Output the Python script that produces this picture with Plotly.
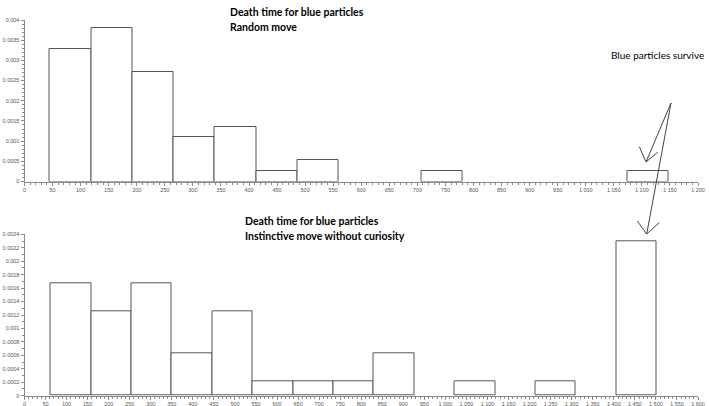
import plotly.graph_objects as go

# ---- data ----
top_bin_left = [45, 118.5, 192, 265.5, 339, 412.5, 486, 559.5, 633, 706.5, 780, 853.5, 927, 1000.5, 1074]
top_bin_width = 73.5
top_density = [0.00327, 0.00381, 0.00272, 0.00109, 0.00136, 0.00027, 0.00054, None, None, 0.00027, None, None, None, None, 0.00027]

bot_bin_left = [62, 158, 254, 350, 446, 542, 638, 734, 830, 926, 1022, 1118, 1214, 1310, 1406]
bot_bin_width = 96
bot_density = [0.00167, 0.00125, 0.00167, 0.000625, 0.00125, 0.00021, 0.00021, 0.00021, 0.000625, None, 0.00021, None, 0.00021, None, 0.00229]

top_xtickvals = list(range(0, 1201, 50))
top_xticktext = [f"{v:,}".replace(",", " ") for v in top_xtickvals]
bot_xtickvals = list(range(0, 1601, 50))
bot_xticktext = [f"{v:,}".replace(",", " ") for v in bot_xtickvals]

top_ytickvals = [0, 0.0005, 0.001, 0.0015, 0.002, 0.0025, 0.003, 0.0035, 0.004]
top_yticktext = ["0", "0.0005", "0.001", "0.0015", "0.002", "0.0025", "0.003", "0.0035", "0.004"]
bot_ytickvals = [0, 0.0002, 0.0004, 0.0006, 0.0008, 0.001, 0.0012, 0.0014, 0.0016, 0.0018, 0.002, 0.0022, 0.0024]
bot_yticktext = ["0", "0.0002", "0.0004", "0.0006", "0.0008", "0.001", "0.0012", "0.0014", "0.0016", "0.0018", "0.002", "0.0022", "0.0024"]

W, H = 709, 406
def px(x): return x / W
def py(y): return 1 - y / H

BAR_LINE = "#555555"
AX = "#8a8a8a"
TICKFONT = dict(family="Liberation Sans, Arial, sans-serif", size=5.5, color="#555555")

fig = go.Figure()
fig.add_trace(go.Bar(x=top_bin_left, y=top_density, width=[top_bin_width] * len(top_bin_left), offset=0,
                     marker=dict(color="white", line=dict(color=BAR_LINE, width=1)),
                     xaxis="x", yaxis="y", showlegend=False))
fig.add_trace(go.Bar(x=bot_bin_left, y=bot_density, width=[bot_bin_width] * len(bot_bin_left), offset=0,
                     marker=dict(color="white", line=dict(color=BAR_LINE, width=1)),
                     xaxis="x2", yaxis="y2", showlegend=False))

def xaxis_cfg(rng, vals, txt, dom, anchor):
    return dict(range=rng, domain=dom, anchor=anchor, tickvals=vals, ticktext=txt, automargin=False,
                showgrid=False, zeroline=False, showline=True, linecolor=AX, linewidth=1,
                ticks="outside", ticklen=3, tickcolor=AX, tickfont=TICKFONT,
                minor=dict(ticks="outside", dtick=10, ticklen=2, tickcolor=AX, showgrid=False))

def yaxis_cfg(rng, vals, txt, dom, anchor, mdt):
    return dict(range=rng, domain=dom, anchor=anchor, tickvals=vals, ticktext=txt, automargin=False,
                showgrid=False, zeroline=False, showline=True, linecolor=AX, linewidth=1,
                ticks="outside", ticklen=3, tickcolor=AX, tickfont=TICKFONT,
                minor=dict(ticks="outside", dtick=mdt, ticklen=2, tickcolor=AX, showgrid=False))

fig.update_layout(
    width=W, height=H, margin=dict(l=0, r=0, t=0, b=0, pad=0),
    paper_bgcolor="white", plot_bgcolor="white", bargap=0,
    xaxis=xaxis_cfg([0, 1200], top_xtickvals, top_xticktext, [px(24.5), px(698)], "y"),
    yaxis=yaxis_cfg([0, 0.004], top_ytickvals, top_yticktext, [py(181.5), py(20)], "x", 0.0001),
    xaxis2=xaxis_cfg([0, 1600], bot_xtickvals, bot_xticktext, [px(24.5), px(698)], "y2"),
    yaxis2=yaxis_cfg([0, 0.0024], bot_ytickvals, bot_yticktext, [py(395.7), py(234.3)], "x2", 0.0001),
)

TFONT = dict(family="Lato, Open Sans, sans-serif", size=10.5, color="black")
titles = [
    ("<b>Death time for blue particles</b>", 228, 12),
    ("<b>Random move</b>", 228, 27),
    ("<b>Death time for blue particles</b>", 243, 221),
    ("<b>Instinctive move without curiosity</b>", 243, 236),
]
for t, x, y in titles:
    fig.add_annotation(text=t, x=px(x), y=py(y), xref="paper", yref="paper",
                       xanchor="left", yanchor="middle", showarrow=False, font=TFONT)
fig.add_annotation(text="Blue particles survive", x=px(706), y=py(55), xref="paper", yref="paper",
                   xanchor="right", yanchor="middle", showarrow=False,
                   font=dict(family="Lato, Open Sans, sans-serif", size=10, color="black"))

ARROW = "#444444"
segments = [
    ((671, 103), (646, 162)),
    ((639.3, 146.7), (646, 162)),
    ((657.7, 152.3), (646, 162)),
    ((671, 103), (646.7, 234)),
    ((637.3, 221), (646.7, 234)),
    ((659.3, 222.7), (646.7, 234)),
]
for (x0, y0), (x1, y1) in segments:
    fig.add_shape(type="line", xref="paper", yref="paper",
                  x0=px(x0), y0=py(y0), x1=px(x1), y1=py(y1),
                  line=dict(color=ARROW, width=1))

fig.write_html("out.html", config={"displayModeBar": False},
               post_script="document.body.style.margin='0';document.body.style.overflow='hidden';")
